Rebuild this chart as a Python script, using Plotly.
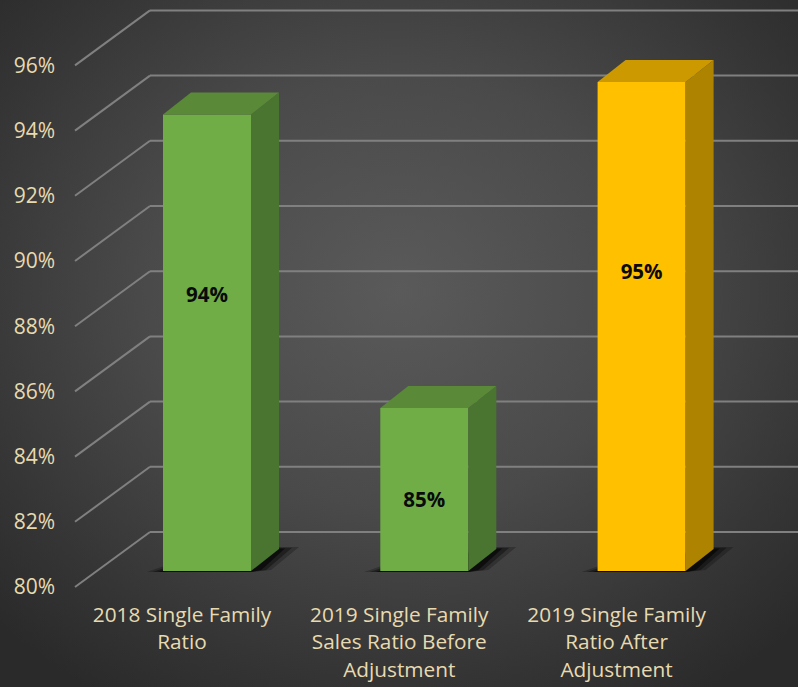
import plotly.graph_objects as go

categories = ["2018 Single Family<br>Ratio",
              "2019 Single Family<br>Sales Ratio Before<br>Adjustment",
              "2019 Single Family<br>Ratio After<br>Adjustment"]
values = [94, 85, 95]
value_labels = ["94%", "85%", "95%"]
front_colors = ["#70ad47", "#70ad47", "#ffc000"]
top_colors = ["#5a8a38", "#5a8a38", "#cc9a00"]
side_colors = ["#4a7530", "#4a7530", "#ae8300"]
tick_values = [80, 82, 84, 86, 88, 90, 92, 94, 96]
tick_labels = ["80%", "82%", "84%", "86%", "88%", "90%", "92%", "94%", "96%"]

W, H = 798, 687
ML, MB = 56, 88
PX_X = 217.3     # pixels per category
PX_Y = 32.6      # pixels per y unit
X0 = 182.0       # pixel of category 0 on front plane
Y80 = 587.0      # pixel of 80 on front plane

def ux(px):
    return px / PX_X

def uy(px):
    return px / PX_Y

x_range = [(ML - X0) / PX_X, (W - X0) / PX_X]
y_range = [80 - (H - MB - Y80) / PX_Y, 80 + Y80 / PX_Y]

TEXT = "#e8dab0"
FONT = "Open Sans, Noto Sans, sans-serif"
BAR_W = 88
BAR_DX, BAR_LIFT = 25, 16
DEPTH_X, DEPTH_Y = 28, 22
WALL_X, WALL_Y = 75, 55
GRID_START = 75 - X0

shapes = []
for t in tick_values:
    x_a = ux(GRID_START)
    x_b = ux(GRID_START + WALL_X)
    y_b = t + uy(WALL_Y)
    shapes.append(dict(type="line", layer="below", xref="x", yref="y", x0=x_a, y0=t, x1=x_b, y1=y_b,
                       line=dict(color="#808080", width=2)))
    shapes.append(dict(type="line", layer="below", xref="x", yref="y", x0=x_b, y0=y_b, x1=x_range[1], y1=y_b,
                       line=dict(color="#808080", width=2)))

fig = go.Figure()

# soft floor shadows behind each bar, built up from three nested layers
for i in range(len(values)):
    left = i + ux(BAR_DX - BAR_W / 2)
    right = i + ux(BAR_DX + BAR_W / 2)
    base = 80 + uy(BAR_LIFT)
    for grow, alpha in ((1.0, 0.25), (0.65, 0.4), (0.3, 0.7)):
        pts = [(left - ux(16 * grow), base - uy(1)), (left + ux(4), base + uy(6 * grow)),
               (right + ux(DEPTH_X), base + uy(DEPTH_Y + 2 * grow)),
               (right + ux(DEPTH_X + 20 * grow), base + uy(DEPTH_Y + 2 * grow)),
               (right + ux(6 + 14 * grow), base + uy(1)), (right, base - uy(1))]
        path = "M " + " L ".join(f"{a},{b}" for a, b in pts) + " Z"
        shapes.append(dict(type="path", layer="below", xref="x", yref="y", path=path,
                           fillcolor=f"rgba(5,5,5,{alpha})", line=dict(width=0)))

fig.add_trace(go.Bar(
    x=list(range(len(values))),
    y=[v - 80 for v in values],
    base=80 + uy(BAR_LIFT),
    width=ux(BAR_W),
    offset=ux(BAR_DX - BAR_W / 2),
    marker=dict(color=front_colors, line=dict(width=0)),
    showlegend=False, hoverinfo="skip",
))

for i, v in enumerate(values):
    left = i + ux(BAR_DX - BAR_W / 2)
    right = i + ux(BAR_DX + BAR_W / 2)
    base = 80 + uy(BAR_LIFT)
    top = v + uy(BAR_LIFT)
    dx, dy = ux(DEPTH_X), uy(DEPTH_Y)
    fig.add_trace(go.Scatter(
        x=[right, right + dx, right + dx, right, right],
        y=[base, base + dy, top + dy, top, base],
        mode="lines", fill="toself", fillcolor=side_colors[i], line=dict(width=0),
        showlegend=False, hoverinfo="skip"))
    fig.add_trace(go.Scatter(
        x=[left, right, right + dx, left + dx, left],
        y=[top, top, top + dy, top + dy, top],
        mode="lines", fill="toself", fillcolor=top_colors[i], line=dict(width=0),
        showlegend=False, hoverinfo="skip"))

fig.add_trace(go.Scatter(
    x=[i + ux(BAR_DX) for i in range(len(values))],
    y=[80 + uy(BAR_LIFT) + 0.7 * (v - 80) - 1.39 for v in values],
    mode="text", text=value_labels,
    textfont=dict(family=FONT, size=20.5, color="#0a0a0a", weight="bold"),
    showlegend=False, hoverinfo="skip"))

fig.update_layout(
    width=W, height=H,
    margin=dict(l=ML, r=0, t=0, b=MB, pad=0, autoexpand=False),
    paper_bgcolor="rgba(0,0,0,0)", plot_bgcolor="rgba(0,0,0,0)",
    shapes=shapes, showlegend=False,
    font=dict(family=FONT, color=TEXT),
    xaxis=dict(range=x_range, tickvals=list(range(len(categories))),
               ticktext=["<br>".join(f'<span style="font-size:20.8px">{p}</span>' for p in c.split("<br>"))
                         for c in categories],
               tickfont=dict(size=21.5, color=TEXT, family=FONT), showgrid=False, zeroline=False, showline=False,
               ticks="", tickangle=0, automargin=False),
    yaxis=dict(range=y_range, tickvals=tick_values, ticktext=tick_labels,
               tickfont=dict(size=21, color=TEXT, family=FONT), showgrid=False, zeroline=False, showline=False,
               ticks="", automargin=False),
)

post = """
document.documentElement.style.margin='0';
document.body.style.margin='0';
document.body.style.overflow='hidden';
document.documentElement.style.background='#2b2b2b';
document.body.style.background='radial-gradient(ellipse 560px 480px at 400px 290px, #5a5a5a 0%, #4a4a4a 45%, #353535 80%, #2a2a2a 100%)';
document.body.style.height='687px';
"""
fig.write_html("out.html", post_script=post, config=dict(displayModeBar=False))
